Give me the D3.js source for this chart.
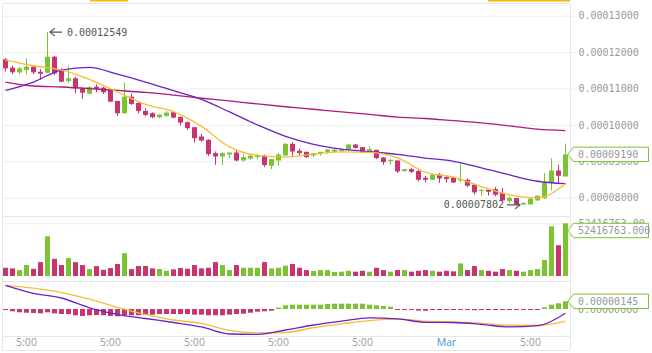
<!DOCTYPE html>
<html>
<head>
<meta charset="utf-8">
<title>Candles</title>
<style>
  body { margin: 0; background: #fff; }
  svg { display: block; }
  .axis text { font-family: "DejaVu Sans Mono", monospace; font-size: 10px; fill: #999; }
  .axis line { stroke: #eeeeee; }
  .axis path { display: none; }
  .time text { font-family: "Open Sans", sans-serif; font-size: 10.5px; fill: #999; }
  .frame { stroke: #e6e6e6; stroke-width: 1; }
  .note { font-family: "DejaVu Sans Mono", monospace; font-size: 10px; fill: #555; }
</style>
</head>
<body>
<svg width="652" height="353"></svg>
<script src="https://cdnjs.cloudflare.com/ajax/libs/d3/7.8.5/d3.min.js"></script>
<script>
// prices are in units of 1e-8
const SAT = 1e-8;
const open = [11800,11570,11444,11507,11598,11461,11433,11872,11507,11206,
  11280,11006,10858,11050,11022,10959,10658,10321,10776,10603,
  10384,10321,10211,10247,10348,10219,10074,9937,9680,9589,
  9225,9132,9186,9241,9022,9077,9115,9151,8877,9022,
  9159,9480,9288,9260,9159,9197,9260,9260,9280,9315,
  9460,9389,9260,9315,9104,9006,9022,8732,8786,8732,
  8548,8493,8638,8567,8556,8474,8493,8356,8184,8219,
  8238,8129,7910,7992,7816,7816,7926,7992,8403,8748,
  8584];
const high = [11836,11625,11589,11828,11644,11535,12549,11899,11554,11625,
  11324,11014,11060,11115,11050,10978,10658,11170,10869,10622,
  10458,10348,10293,10384,10384,10228,10090,9937,9754,9608,
  9269,9241,9241,9315,9206,9206,9206,9186,9069,9225,
  9499,9526,9351,9260,9225,9260,9334,9351,9351,9480,
  9480,9389,9406,9315,9115,9060,9022,8786,8814,8767,
  8603,8658,8677,8603,8567,8932,8529,8384,8219,8219,
  8293,8266,8036,7992,7871,7992,8055,8677,9082,8904,
  9488];
const low = [11461,11389,11389,11389,11389,11233,11411,11370,11170,11143,
  10869,10713,10841,10896,10850,10622,10247,10310,10548,10310,
  10239,10184,10184,10219,10184,9981,9863,9515,9542,9151,
  8904,8904,9088,8995,8995,9041,9060,8841,8786,8877,
  9151,9151,9170,9096,9115,9151,9206,9225,9241,9296,
  9351,9225,9225,9060,8904,8904,8677,8712,8677,8447,
  8419,8493,8403,8419,8403,8419,8293,8082,8055,8055,
  8036,7899,7855,7802,7804,7805,7910,7964,8200,8403,
  8584];
const close = [11554,11444,11554,11598,11444,11406,11872,11417,11187,11280,
  11006,10885,11041,10987,10896,10639,10321,10776,10576,10384,
  10274,10211,10282,10337,10200,10063,9910,9636,9570,9197,
  9132,9225,9241,9022,9115,9151,9170,8896,9060,9186,
  9480,9269,9225,9115,9225,9260,9323,9315,9315,9460,
  9370,9252,9334,9088,8978,9041,8721,8786,8712,8493,
  8493,8638,8529,8512,8419,8512,8329,8145,8219,8164,
  8082,7926,7992,7808,7855,7973,8055,8403,8748,8603,
  9190];
// volume in millions
const volume = [8.2,7.6,5.9,10.9,7.2,13.8,39.5,17.1,10.9,17.8,
  13.8,10.9,6.9,9.9,6.2,7.9,11.9,22.7,6.9,9.9,
  9.9,7.6,6.9,5.2,6.6,7.9,7.2,10.9,7.6,8.2,
  13.8,10.9,5.9,10.9,8.2,8.2,8.2,13.8,7.6,8.2,
  10.2,11.9,8.2,5.9,5.0,5.9,5.9,4.0,4.3,5.2,
  4.3,5.2,4.3,8.2,5.9,4.3,5.9,5.9,4.3,5.2,
  5.9,5.2,4.3,5.2,4.6,12.5,5.9,9.9,5.9,5.2,
  4.3,6.9,5.9,5.2,4.3,5.9,6.9,15.8,49.4,30.6,
  52.416763];
// MACD histogram, units of 1e-8
const macdHist = [-5,-43,-62,-70,-75,-81,-62,-81,-94,-94,
  -118,-132,-118,-113,-118,-132,-137,-118,-118,-118,
  -113,-107,-94,-94,-94,-94,-94,-107,-107,-118,
  -118,-118,-107,-94,-88,-70,-51,-43,-32,28,
  70,81,81,81,81,81,94,100,100,100,
  100,100,81,70,56,43,-13,-13,-13,-30,
  -32,-19,-19,-17,-19,-15,-19,-22,-19,-17,
  -19,-19,-15,-19,-13,-13,-9,32,81,107,
  145];

// indicator lines, read every 4th candle
const lineIdx = [0,4,8,12,16,20,24,28,32,36,40,44,48,52,56,60,64,68,72,76,80];
const ma7 = [11781,11625,11507,11253,10904,10562,10365,9959,9397,9162,9115,9195,9260,9247,9096,8699,8562,8301,8077,7995,8384];
const ma25 = [10946,11178,11507,11581,11392,11178,10940,10699,10356,10000,9685,9466,9332,9263,9192,9088,9000,8822,8625,8452,8384];
const ma99 = [11178,11069,11041,10998,10946,10891,10817,10732,10658,10576,10499,10430,10356,10288,10214,10176,10115,10055,9973,9882,9844];
const dif = [446,295,207,23,-100,-179,-254,-338,-470,-479,-395,-301,-229,-167,-186,-250,-254,-288,-338,-312,-81];
const dea = [446,391,310,184,30,-103,-207,-271,-404,-451,-442,-353,-280,-218,-190,-229,-244,-271,-306,-310,-226];

const priceTicks = [0.00008, 0.00009, 0.0001, 0.00011, 0.00012, 0.00013];
const timeTickIdx = [3, 15, 27, 39, 51, 63, 75];
const timeTickLabels = ["5:00", "5:00", "5:00", "5:00", "5:00", "Mar", "5:00"];

const UP = "#7cc332", DOWN = "#c9336f";
const C_MA7 = "#f5bd35", C_MA25 = "#6a22c6", C_MA99 = "#b01a78";

const svg = d3.select('svg');
const right = 570.5;

const x = d3.scaleBand().domain(d3.range(open.length)).range([2, 569]);
const cx = i => x(i) + x.bandwidth() / 2;
const y = d3.scaleLinear().domain([0.00007478, 0.00013335]).range([216.7, 3.5]);
const yV = d3.scaleLinear().domain([0, 52416763]).range([276, 223.3]);
const yM = d3.scaleLinear().domain([-508 * SAT, 508 * SAT]).range([336, 282]);

// frame
const frame = svg.append('g');
[[2.5, 3.5, 2.5, 350.5], [right, 3.5, right, 350.5]].forEach(l =>
  frame.append('line').attr('class', 'frame').attr('x1', l[0]).attr('y1', l[1]).attr('x2', l[2]).attr('y2', l[3]));
[3.5, 216.5, 281.5, 336.5, 350.5].forEach(v =>
  frame.append('line').attr('class', 'frame').attr('x1', 2.5).attr('x2', right).attr('y1', v).attr('y2', v));
svg.append('rect').attr('x', 90).attr('y', 0).attr('width', 38).attr('height', 1.5).attr('fill', '#f0b90b');
svg.append('rect').attr('x', 488).attr('y', 0).attr('width', 82).attr('height', 1.5).attr('fill', '#f0b90b');

// price axis with gridlines
svg.append('g').attr('class', 'axis').attr('transform', 'translate(2.5,0)')
  .call(d3.axisRight(y).tickValues(priceTicks).tickSize(574).tickPadding(2).tickFormat(d3.format('.8f')));
svg.append('g').attr('class', 'axis').attr('transform', 'translate(2.5,0)')
  .call(d3.axisRight(yV).tickValues([52416763]).tickSize(574).tickPadding(2).tickFormat(d3.format('.2f')));
svg.append('g').attr('class', 'axis').attr('transform', 'translate(' + right + ',0)')
  .call(d3.axisRight(yM).tickValues([0]).tickSize(0).tickPadding(7.5).tickFormat(d3.format('.8f')));

// candles
const idx = d3.range(open.length);
const candles = svg.append('g').selectAll('g').data(idx).enter().append('g');
candles.append('line')
  .attr('x1', i => cx(i)).attr('x2', i => cx(i))
  .attr('y1', i => y(high[i] * SAT)).attr('y2', i => y(low[i] * SAT))
  .attr('stroke', i => close[i] >= open[i] ? UP : DOWN).attr('stroke-width', 1);
candles.append('rect')
  .attr('x', i => cx(i) - 2.5).attr('width', 5)
  .attr('y', i => y(Math.max(open[i], close[i]) * SAT))
  .attr('height', i => Math.max(1, Math.abs(y(open[i] * SAT) - y(close[i] * SAT))))
  .attr('fill', i => close[i] >= open[i] ? UP : DOWN);

// moving averages
const maLine = d3.line().x((d, k) => cx(lineIdx[k])).y(d => y(d * SAT)).curve(d3.curveMonotoneX);
[[ma99, C_MA99], [ma25, C_MA25], [ma7, C_MA7]].forEach(s =>
  svg.append('path').attr('d', maLine(s[0])).attr('fill', 'none').attr('stroke', s[1]).attr('stroke-width', 1.3));

// high / low notes
const hi = d3.maxIndex(high), lo = d3.minIndex(low);
const hy = y(high[hi] * SAT), ly = y(low[lo] * SAT);
const hx = cx(hi) + 2.5;
svg.append('path').attr('d', `M${hx + 12},${hy}H${hx}M${hx + 5},${hy - 4}L${hx},${hy}L${hx + 5},${hy + 4}`)
  .attr('stroke', '#555').attr('fill', 'none').attr('stroke-width', 1.2);
svg.append('text').attr('class', 'note').attr('x', hx + 17).attr('y', hy).attr('dy', '0.35em')
  .text(d3.format('.8f')(high[hi] * SAT));
const lx = cx(lo) + 3.5;
svg.append('path').attr('d', `M${lx - 13},${ly}H${lx}M${lx - 5},${ly - 4}L${lx},${ly}L${lx - 5},${ly + 4}`)
  .attr('stroke', '#555').attr('fill', 'none').attr('stroke-width', 1.2);
svg.append('text').attr('class', 'note').attr('x', lx - 16).attr('y', ly).attr('dy', '0.35em')
  .attr('text-anchor', 'end').text(d3.format('.8f')(low[lo] * SAT));

// volume
svg.append('g').selectAll('rect').data(idx).enter().append('rect')
  .attr('x', i => cx(i) - 2.5).attr('width', 5)
  .attr('y', i => yV(volume[i] * 1e6)).attr('height', i => yV(0) - yV(volume[i] * 1e6))
  .attr('fill', i => close[i] >= open[i] ? UP : DOWN);

// macd
svg.append('g').selectAll('rect').data(idx).enter().append('rect')
  .attr('x', i => cx(i) - 2.5).attr('width', 5)
  .attr('y', i => Math.min(yM(0), yM(macdHist[i] * SAT)))
  .attr('height', i => Math.max(1, Math.abs(yM(macdHist[i] * SAT) - yM(0))))
  .attr('fill', i => macdHist[i] >= 0 ? UP : DOWN);
const mLine = d3.line().x((d, k) => cx(lineIdx[k])).y(d => yM(d * SAT)).curve(d3.curveMonotoneX);
[[dea, C_MA7], [dif, C_MA25]].forEach(s =>
  svg.append('path').attr('d', mLine(s[0])).attr('fill', 'none').attr('stroke', s[1]).attr('stroke-width', 1.3));

// time axis
const tAxis = svg.append('g').attr('class', 'time').attr('transform', 'translate(0,336.5)')
  .call(d3.axisBottom(x).tickValues(timeTickIdx).tickSize(0).tickPadding(2).tickFormat((d, k) => timeTickLabels[k]));
tAxis.select('.domain').remove();
tAxis.selectAll('text').style('fill', d => d === 63 ? '#3a95db' : '#999');

// last value tags
function tag(yc, label, top, bottom) {
  const c = Math.max(top + 7.2, Math.min(bottom - 7.2, yc));
  svg.append('path')
    .attr('d', `M568,${c}L573.5,${c - 7.2}H648.5V${c + 7.2}H573.5Z`)
    .attr('fill', '#fff').attr('stroke', UP).attr('stroke-width', 1);
  svg.append('text').attr('class', 'note').style('fill', '#999')
    .attr('x', 578).attr('y', c).attr('dy', '0.35em').text(label);
}
const last = open.length - 1;
tag(y(close[last] * SAT), d3.format('.8f')(close[last] * SAT), 3.5, 216.7);
tag(yV(volume[last] * 1e6), d3.format('.3f')(volume[last] * 1e6), 223.3, 281);
tag(yM(macdHist[last] * SAT), d3.format('.8f')(macdHist[last] * SAT), 282, 336);
</script>
</body>
</html>
